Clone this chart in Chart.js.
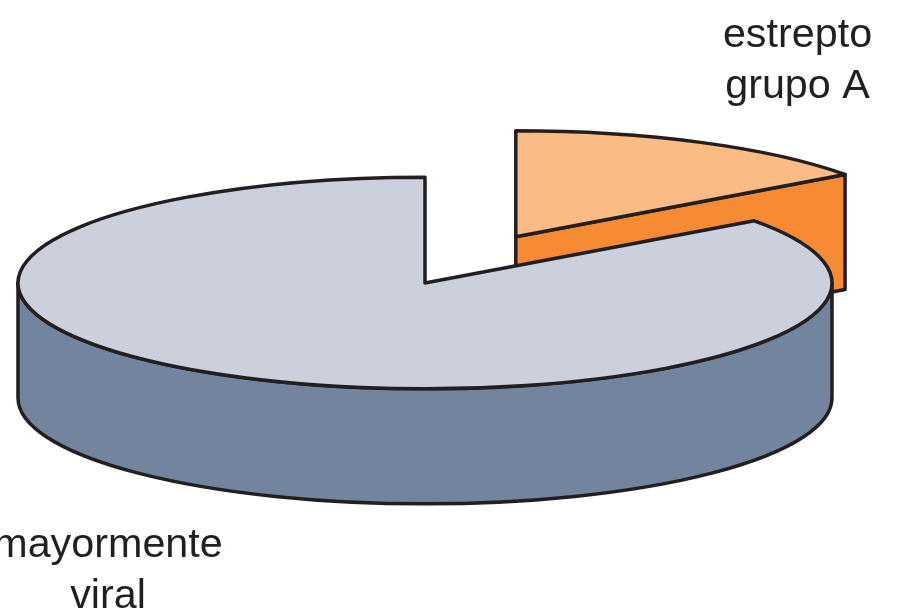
<!DOCTYPE html>
<html>
<head>
<meta charset="utf-8">
<script src="https://cdn.jsdelivr.net/npm/chart.js@4"></script>
<style>
	html, body { margin: 0; padding: 0; background: #fff; overflow: hidden; }
	canvas { display: block; }
</style>
</head>
<body>
<canvas id="chart" width="899" height="611"></canvas>
<script>
const categories = ['estrepto grupo A', 'mayormente viral']
const values = [15, 85]

const topColors = ['#fbbb85', '#cbd0dc']
const sideColors = ['#f68b33', '#72849e']
const explode = [200, 0]
const labelLines = [['estrepto', 'grupo A'], ['mayormente', 'viral']]
const labelSpots = [{x: 797.5, y: 47}, {x: 108, y: 557}]

const squash = 0.26
const depth = 115
const lineColor = '#231f20'

// pie is laid out flat by Chart.js, this tilts it and gives it a wall
const tiltedPie = {
	id: 'tiltedPie',
	beforeDatasetDraw: (chart) => {
		const ctx = chart.ctx
		const arcs = chart.getDatasetMeta(0).data

		arcs.forEach((arc, i) => {
			const {x, y, startAngle, endAngle, outerRadius} = arc.getProps(['x', 'y', 'startAngle', 'endAngle', 'outerRadius'], true)
			const mid = (startAngle + endAngle) / 2
			const off = explode[i]
			const cx = x + Math.cos(mid) * off
			const cy = y + Math.sin(mid) * off * squash
			const rx = outerRadius
			const ry = outerRadius * squash

			ctx.lineWidth = 3.5
			ctx.lineJoin = 'round'
			ctx.strokeStyle = lineColor

			// cut face, only if it looks to the viewer
			if (Math.cos(endAngle) > 0.01) {
				const ex = cx + Math.cos(endAngle) * rx
				const ey = cy + Math.sin(endAngle) * ry
				ctx.beginPath()
				ctx.moveTo(cx, cy)
				ctx.lineTo(ex, ey)
				ctx.lineTo(ex, ey + depth)
				ctx.lineTo(cx, cy + depth)
				ctx.closePath()
				ctx.fillStyle = sideColors[i]
				ctx.fill()
				ctx.stroke()
			}

			// front wall
			const from = Math.max(startAngle, 0)
			const to = Math.min(endAngle, Math.PI)
			if (to > from) {
				ctx.beginPath()
				ctx.ellipse(cx, cy, rx, ry, 0, from, to)
				ctx.ellipse(cx, cy + depth, rx, ry, 0, to, from, true)
				ctx.closePath()
				ctx.fillStyle = sideColors[i]
				ctx.fill()
				ctx.stroke()
			}

			// top
			ctx.beginPath()
			ctx.moveTo(cx, cy)
			ctx.ellipse(cx, cy, rx, ry, 0, startAngle, endAngle)
			ctx.closePath()
			ctx.fillStyle = topColors[i]
			ctx.fill()
			ctx.stroke()
		})

		return false
	},
	afterDraw: (chart) => {
		const ctx = chart.ctx
		ctx.fillStyle = lineColor
		ctx.font = '41.3px "Liberation Sans"'
		ctx.textAlign = 'center'
		labelLines.forEach((lines, i) => {
			lines.forEach((line, j) => {
				ctx.fillText(line, labelSpots[i].x, labelSpots[i].y + j * 51)
			})
		})
	}
}

new Chart(document.getElementById('chart'), {
	type: 'pie',
	data: {
		labels: categories,
		datasets: [{
			data: values,
			backgroundColor: topColors,
			borderColor: lineColor,
			borderWidth: 3
		}]
	},
	options: {
		responsive: false,
		animation: false,
		radius: 407,
		layout: {padding: {left: 0, top: 0, right: 49, bottom: 45}},
		plugins: {
			legend: {display: false},
			tooltip: {enabled: false}
		}
	},
	plugins: [tiltedPie]
})
</script>
</body>
</html>
